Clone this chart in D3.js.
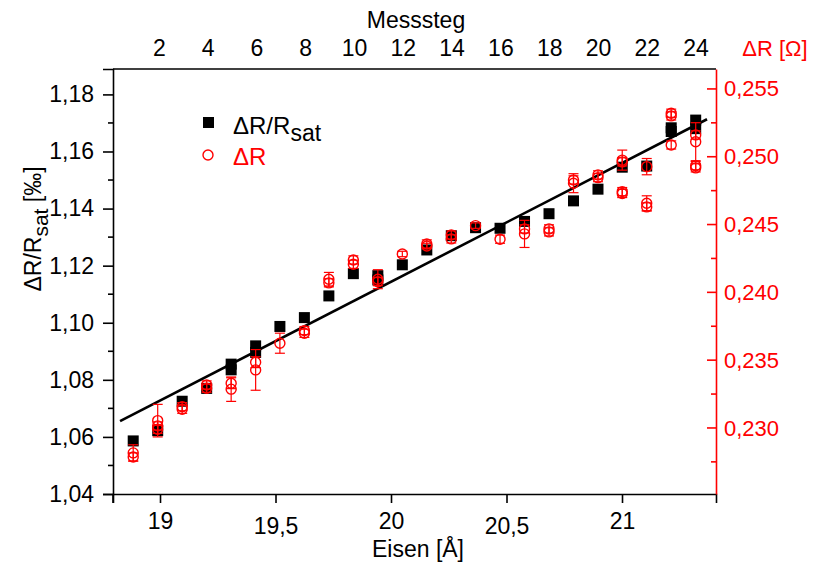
<!DOCTYPE html>
<html>
<head>
<meta charset="utf-8">
<script src="https://cdn.jsdelivr.net/npm/d3@7/dist/d3.min.js"></script>
<style>
  html, body { margin: 0; padding: 0; background: #fff; }
  svg { display: block; }
  text { font-family: "Liberation Sans", Arial, Helvetica, sans-serif; }
</style>
</head>
<body>
<svg id="chart" width="813" height="565"></svg>
<script>
// Iron thickness (Å) of each measuring step 1..24
const eisen = [18.884, 18.990, 19.096, 19.202, 19.308, 19.414, 19.519, 19.625,
               19.731, 19.837, 19.943, 20.049, 20.155, 20.261, 20.366, 20.472,
               20.578, 20.684, 20.790, 20.896, 21.001, 21.107, 21.213, 21.319];

// ΔR/R_sat [‰] per step (repeated measurements listed together)
const ratio = [
  [1.0586], [1.0622], [1.0725], [1.0770], [1.0855, 1.0835], [1.0919, 1.0896],
  [1.0987], [1.1018], [1.1094], [1.1172], [1.1165, 1.1150], [1.1203],
  [1.1255], [1.1305], [1.1333], [1.1331], [1.1355], [1.1382],
  [1.1427], [1.1468], [1.1545], [1.1549], [1.1683, 1.1670], [1.1710, 1.1680]
];

// ΔR [Ω] per step as [value, error]
const deltaR = [
  [[0.22816, 0.0006], [0.22786, 0.0003]],
  [[0.23054, 0.0012], [0.23015, 0.0003], [0.22990, 0.0003]],
  [[0.23157, 0.0003], [0.23138, 0.0003]],
  [[0.23317, 0.0003], [0.23293, 0.0003]],
  [[0.23330, 0.0004], [0.23286, 0.0009]],
  [[0.23485, 0.0004], [0.23428, 0.0015]],
  [[0.23625, 0.00074]],
  [[0.23718, 0.0003], [0.23698, 0.0003]],
  [[0.24097, 0.0005], [0.24070, 0.0003]],
  [[0.24239, 0.0003], [0.24207, 0.0003]],
  [[0.24097, 0.0007], [0.24079, 0.0003]],
  [[0.24283, 0.0002]],
  [[0.24357, 0.0003], [0.24342, 0.0002]],
  [[0.24423, 0.0003], [0.24394, 0.0003]],
  [[0.24492, 0.0002]],
  [[0.24392, 0.0003]],
  [[0.24468, 0.0003], [0.24431, 0.0010]],
  [[0.24468, 0.0003], [0.24446, 0.0003]],
  [[0.24829, 0.0003], [0.24805, 0.0007]],
  [[0.24866, 0.0003], [0.24846, 0.0003]],
  [[0.24975, 0.00074], [0.24962, 0.0003], [0.24743, 0.0003], [0.24729, 0.0003]],
  [[0.24927, 0.0006], [0.24657, 0.00055], [0.24630, 0.0003]],
  [[0.25321, 0.0003], [0.25301, 0.0003], [0.25087, 0.0003]],
  [[0.25161, 0.0003], [0.25111, 0.0014], [0.24934, 0.0003], [0.24918, 0.0003]]
];

// Linear fit of ΔR/R_sat vs. iron thickness (end points)
const fit = [[18.827, 1.0655], [21.368, 1.1713]];

// Tick values
const ratioTicks = [1.04, 1.06, 1.08, 1.10, 1.12, 1.14, 1.16, 1.18];
const ratioMinor = [1.05, 1.07, 1.09, 1.11, 1.13, 1.15, 1.17];
const ohmTicks = [0.230, 0.235, 0.240, 0.245, 0.250, 0.255];
const ohmMinor = [0.2275, 0.2325, 0.2375, 0.2425, 0.2475, 0.2525];
const eisenTicks = [19, 19.5, 20, 20.5, 21];
const stepTicks = [2, 4, 6, 8, 10, 12, 14, 16, 18, 20, 22, 24];

const RED = "#ff0000";
const svg = d3.select("#chart");
const L = 113, R = 716, T = 69, B = 494;

const de = d3.formatLocale({ decimal: ",", thousands: ".", grouping: [3], currency: ["", "€"] });

const x = d3.scaleLinear().domain([18.7965, 21.4069]).range([L, R]);
const xTop = d3.scaleLinear().domain([0.1025, 24.816]).range([L, R]);
const yL = d3.scaleLinear().domain([1.04, 1.1889]).range([B, T]);
const yR = d3.scaleLinear().domain([0.22513, 0.25647]).range([B, T]);

// frame: top line
svg.append("line").attr("x1", L).attr("x2", R).attr("y1", T).attr("y2", T)
  .attr("stroke", "#000").attr("stroke-width", 1.6);

// bottom axis
const gB = svg.append("g").attr("transform", `translate(0,${B})`)
  .call(d3.axisBottom(x).tickValues(eisenTicks).tickSize(9).tickPadding(10)
        .tickFormat(d => de.format(",.1~f")(d)));
gB.select(".domain").attr("stroke-width", 1.6);
gB.selectAll(".tick line").attr("stroke-width", 1.6);
gB.selectAll(".tick text").attr("font-size", 23)
  .attr("dy", d => (d % 1 ? "0.93em" : "0.71em"));
gB.append("line").attr("x1", L).attr("x2", L).attr("y1", 0).attr("y2", 9)
  .attr("stroke", "#000").attr("stroke-width", 1.6);

// left axis
const gL = svg.append("g").attr("transform", `translate(${L},0)`)
  .call(d3.axisLeft(yL).tickValues(ratioTicks).tickSize(10).tickPadding(9)
        .tickFormat(d => de.format(".2f")(d)));
gL.select(".domain").attr("stroke-width", 1.6);
gL.selectAll(".tick line").attr("stroke-width", 1.6);
gL.selectAll(".tick text").attr("font-size", 23).attr("fill", "#000");
svg.append("g").attr("transform", `translate(${L},0)`)
  .selectAll("line").data(ratioMinor).join("line")
  .attr("x1", -5).attr("x2", 0).attr("y1", d => yL(d)).attr("y2", d => yL(d))
  .attr("stroke", "#000").attr("stroke-width", 1.6);

// right axis (red, ticks inward)
const gR = svg.append("g").attr("transform", `translate(${R},0)`)
  .call(d3.axisRight(yR).tickValues(ohmTicks).tickSize(0).tickPadding(8)
        .tickFormat(d => de.format(".3f")(d)));
gR.select(".domain").attr("stroke", RED).attr("stroke-width", 1.6);
gR.selectAll(".tick text").attr("font-size", 22).attr("fill", RED);
svg.append("g").attr("transform", `translate(${R},0)`)
  .selectAll("line").data(ohmTicks.map(v => [v, 9]).concat(ohmMinor.map(v => [v, 5]))).join("line")
  .attr("x1", d => -d[1]).attr("x2", 0).attr("y1", d => yR(d[0])).attr("y2", d => yR(d[0]))
  .attr("stroke", RED).attr("stroke-width", 1.6);

// top axis labels (measuring step)
svg.append("g").selectAll("text").data(stepTicks).join("text")
  .attr("x", d => xTop(d)).attr("y", 56).attr("text-anchor", "middle")
  .attr("font-size", 23).text(d => d);

// axis titles
svg.append("text").attr("x", 416).attr("y", 28).attr("text-anchor", "middle")
  .attr("font-size", 23).text("Messsteg");
svg.append("text").attr("x", 418).attr("y", 557).attr("text-anchor", "middle")
  .attr("font-size", 23).text("Eisen [Å]");
svg.append("text").attr("x", 775).attr("y", 56).attr("text-anchor", "middle")
  .attr("font-size", 22).attr("fill", RED).text("ΔR [Ω]");
const yt = svg.append("text").attr("transform", "translate(41,229) rotate(-90)")
  .attr("text-anchor", "middle").attr("font-size", 23);
yt.append("tspan").text("ΔR/R");
yt.append("tspan").attr("dy", 7).attr("font-size", 21).text("sat");
yt.append("tspan").attr("dy", -7).text(" [‰]");

// fit line
svg.append("line")
  .attr("x1", x(fit[0][0])).attr("y1", yL(fit[0][1]))
  .attr("x2", x(fit[1][0])).attr("y2", yL(fit[1][1]))
  .attr("stroke", "#000").attr("stroke-width", 2.6);

// black squares
const sq = ratio.flatMap((vals, i) => vals.map(v => ({ x: eisen[i], y: v })));
svg.append("g").selectAll("rect").data(sq).join("rect")
  .attr("x", d => x(d.x) - 5.5).attr("y", d => yL(d.y) - 5.5)
  .attr("width", 11).attr("height", 11).attr("fill", "#000");

// red circles with error bars
const rc = deltaR.flatMap((vals, i) => vals.map(v => ({ x: eisen[i], y: v[0], e: v[1] })));
const gE = svg.append("g").attr("stroke", RED).attr("stroke-width", 1.2).attr("fill", "none");
rc.forEach(d => {
  const cx = x(d.x), y1 = yR(d.y + d.e), y2 = yR(d.y - d.e);
  gE.append("line").attr("x1", cx).attr("x2", cx).attr("y1", y1).attr("y2", y2);
  gE.append("line").attr("x1", cx - 5).attr("x2", cx + 5).attr("y1", y1).attr("y2", y1);
  gE.append("line").attr("x1", cx - 5).attr("x2", cx + 5).attr("y1", y2).attr("y2", y2);
});
svg.append("g").selectAll("circle").data(rc).join("circle")
  .attr("cx", d => x(d.x)).attr("cy", d => yR(d.y)).attr("r", 5)
  .attr("fill", "none").attr("stroke", RED).attr("stroke-width", 1.4);

// legend
svg.append("rect").attr("x", 203).attr("y", 117).attr("width", 11).attr("height", 11).attr("fill", "#000");
const lt = svg.append("text").attr("x", 233).attr("y", 134).attr("font-size", 24);
lt.append("tspan").text("ΔR/R");
lt.append("tspan").attr("dy", 7).attr("font-size", 23).text("sat");
svg.append("circle").attr("cx", 208).attr("cy", 155).attr("r", 5)
  .attr("fill", "none").attr("stroke", RED).attr("stroke-width", 1.4);
svg.append("text").attr("x", 233).attr("y", 165).attr("font-size", 24).attr("fill", RED).text("ΔR");
</script>
</body>
</html>
